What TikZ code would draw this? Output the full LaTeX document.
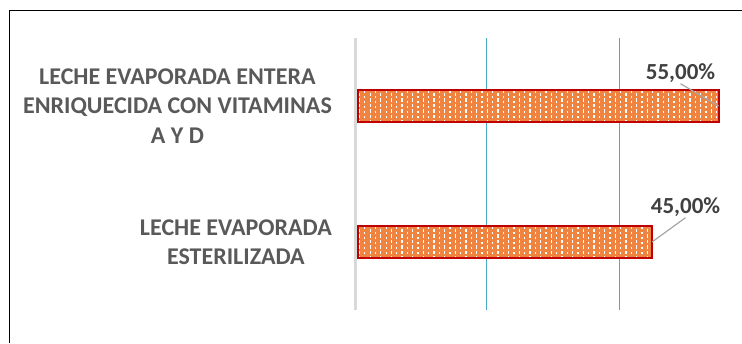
\documentclass[tikz,border=0pt]{standalone}
\usepackage{fontspec}
\setmainfont{Carlito}
\definecolor{catgray}{HTML}{595959}
\definecolor{pctgray}{HTML}{404040}
\definecolor{axisgray}{HTML}{D9D9D9}
\definecolor{gridteal}{HTML}{4BACC6}
\definecolor{barorange}{HTML}{EE8440}
\definecolor{barred}{HTML}{C00000}
\definecolor{leadergray}{HTML}{A6A6A6}
\tikzset{
  frameline/.style={draw=black, line width=1.5pt},
  axisline/.style={draw=axisgray, line width=3pt},
  gridline/.style={draw=gridteal, line width=1.5pt},
  barbox/.style={fill=barorange, inner sep=0pt, outer sep=0pt},
  barborder/.style={draw=barred, line width=2pt},
  dotsA/.style={draw=white, line width=1.3pt, dash pattern=on 2pt off 3pt},
  dotsB/.style={draw=white, line width=1.3pt, dash pattern=on 3.5pt off 2pt},
  catlabel/.style={text=catgray, align=center, inner sep=0pt,
    font=\bfseries\fontsize{24}{29.5}\selectfont},
  pctlabel/.style={text=pctgray, inner sep=1pt, font=\bfseries\fontsize{23}{27}\selectfont},
  leader/.style={draw=leadergray, line width=1.2pt}
}
\newcommand{\barpattern}[2]{%
  \begin{scope}
    \clip (#1.north west) rectangle (#1.south east);
    \foreach \i in {0,...,#2}{
      \pgfmathsetmacro{\xx}{359.5+\i*5.33}
      \ifodd\i
        \draw[dotsA] (\xx,91) -- (\xx,122);
      \else
        \draw[dotsB] (\xx,92.5) -- (\xx,122);
      \fi
    }
  \end{scope}}
\newcommand{\barpatternb}[2]{%
  \begin{scope}
    \clip (#1.north west) rectangle (#1.south east);
    \foreach \i in {0,...,#2}{
      \pgfmathsetmacro{\xx}{359.5+\i*5.33}
      \ifodd\i
        \draw[dotsA] (\xx,227) -- (\xx,258);
      \else
        \draw[dotsB] (\xx,228.5) -- (\xx,258);
      \fi
    }
  \end{scope}}
\begin{document}
\begin{tikzpicture}[x=1pt,y=-1pt]
\useasboundingbox (0,0) rectangle (742,343);
% frame
\draw[frameline] (9.5,343) -- (9.5,10.5) -- (742,10.5);
% axis and gridlines
\draw[axisline] (355.5,38) -- (355.5,310);
\draw[gridline] (486.5,38) -- (486.5,310);
\draw[gridline] (619.5,38) -- (619.5,310);
% bars
\node[barbox, minimum width=361pt, minimum height=32pt, anchor=north west] (bar1) at (357.5,90) {};
\node[barbox, minimum width=294.5pt, minimum height=32pt, anchor=north west] (bar2) at (357.5,226) {};
\barpattern{bar1}{68}
\barpatternb{bar2}{56}
\draw[barborder] (bar1.north west) rectangle (bar1.south east);
\draw[barborder] (bar2.north west) rectangle (bar2.south east);
% category labels
\node[catlabel, anchor=east] (cat1) at (332,106) {LECHE EVAPORADA ENTERA\\ENRIQUECIDA CON VITAMINAS\\A Y D};
\node[catlabel, anchor=east] (cat2) at (332,242) {LECHE EVAPORADA\\ESTERILIZADA};
% value labels
\node[pctlabel] (p1) at (680.5,73) {55,00\%};
\node[pctlabel] (p2) at (685.5,207) {45,00\%};
\draw[leader] (p1.south) -- (bar1.east);
\draw[leader] (p2.south) -- (bar2.east);
\end{tikzpicture}
\end{document}
